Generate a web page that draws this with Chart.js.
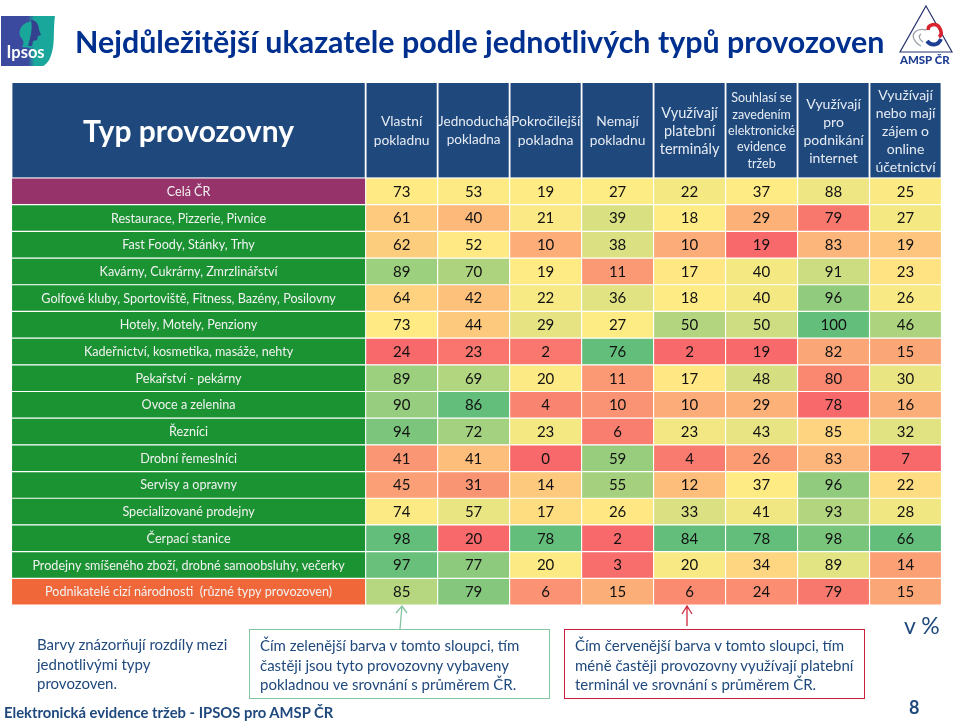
<!DOCTYPE html>
<html lang="cs">
<head>
<meta charset="utf-8">
<title>Nejdůležitější ukazatele</title>
<script src="https://cdn.jsdelivr.net/npm/chart.js@4"></script>
<style>
html, body { margin: 0; padding: 0; background: #fff; }
body { width: 960px; height: 723px; position: relative; overflow: hidden; font-family: Lato, Carlito, sans-serif; }
canvas { position: absolute; left: 0; top: 0; }
.abs { position: absolute; white-space: nowrap; }
#title { left: 75px; top: 23px; font-size: 30.4px; font-weight: 700; color: #00308f; }
.note { font-size: 15px; line-height: 19.6px; color: #1f497d; box-sizing: border-box; }
#noteLeft { left: 37px; top: 635px; }
#noteGreen { left: 249px; top: 629px; width: 301px; height: 70px; border: 1.5px solid #84c4a0; padding: 6px 0 0 10px; }
#noteRed { left: 564px; top: 629px; width: 301px; height: 70px; border: 1.5px solid #c8203c; padding: 6px 0 0 10px; }
#footer { left: 4px; top: 703px; font-size: 14.8px; font-weight: 700; color: #1f497d; }
#unit { left: 904px; top: 611px; font-size: 23px; color: #1f497d; }
#page { left: 909px; top: 696px; font-size: 18px; font-weight: 700; color: #1f497d; }
svg { position: absolute; left: 0; top: 0; }
</style>
</head>
<body>
<canvas id="heatmap" width="960" height="723"></canvas>

<svg width="960" height="723" viewBox="0 0 960 723">
    <defs>
        <linearGradient id="ipsosFill" x1="0" x2="1" y1="0" y2="0">
            <stop offset="0" stop-color="#3b4a9e"/>
            <stop offset="0.5" stop-color="#3b4a9e"/>
            <stop offset="0.62" stop-color="#1aa79b"/>
            <stop offset="1" stop-color="#1aa79b"/>
        </linearGradient>
    </defs>
    <path d="M1 16 H55 C53 30 55 42 52 52 C50 60 47 64 43 66 H1 Z" fill="url(#ipsosFill)"/>
    <path d="M29 22 C36 19 39 26 38 33 C38 37 36 38 35 41 C33 43 33 46 32 48 L22 47 C25 42 23 40 20 36 C18 29 23 23 29 22 Z" fill="#1aa79b"/>
    <path d="M31 20 C37 20 39 26 39 30 L41 35 L38 36 L37 40 L33 41 L32 46 L28 46 C30 38 33 30 31 20 Z" fill="#33418f"/>
    <text x="6.5" y="58" font-family="Lato, sans-serif" font-size="16.5" font-weight="700" fill="#fff">Ipsos</text>

    <path d="M926 6 L952 52 H900 Z" fill="#fff" stroke="#27346f" stroke-width="1.2"/>
    <path d="M928 30 C928 24 936 23 939 27 C942 31 942 35 939 37" fill="none" stroke="#d9232e" stroke-width="3.6"/>
    <path d="M927 41 C931 46 938 46 941 39" fill="none" stroke="#1f3f94" stroke-width="4"/>
    <path d="M921 46 C914 42 911 36 915 32 C918 29 922 29 926 30 M923 42 C919 39 918 36 921 34" fill="none" stroke="#9aa0a8" stroke-width="1.3"/>
    <text x="900" y="64" font-family="Lato, sans-serif" font-size="11.4" font-weight="900" fill="#1f3f94">AMSP ČR</text>

    <path d="M400 629 L402 606 M396 613 L402 606 L407 613" fill="none" stroke="#84c4a0" stroke-width="1.3"/>
    <path d="M687 626 V606 M682 614 L687 606 L692 614" fill="none" stroke="#d0283c" stroke-width="1.3"/>
</svg>

<div class="abs" id="title">Nejdůležitější ukazatele podle jednotlivých typů provozoven</div>
<div class="abs note" id="noteLeft">Barvy znázorňují rozdíly mezi<br>jednotlivými typy<br>provozoven.</div>
<div class="abs note" id="noteGreen">Čím zelenější barva v tomto sloupci, tím<br>častěji jsou tyto provozovny vybaveny<br>pokladnou ve srovnání s průměrem ČR.</div>
<div class="abs note" id="noteRed">Čím červenější barva v tomto sloupci, tím<br>méně častěji provozovny využívají platební<br>terminál ve srovnání s průměrem ČR.</div>
<div class="abs" id="footer">Elektronická evidence tržeb - IPSOS pro AMSP ČR</div>
<div class="abs" id="unit">v %</div>
<div class="abs" id="page">8</div>

<script>
const rowLabels = [
    'Celá ČR',
    'Restaurace, Pizzerie, Pivnice',
    'Fast Foody, Stánky, Trhy',
    'Kavárny, Cukrárny, Zmrzlinářství',
    'Golfové kluby, Sportoviště, Fitness, Bazény, Posilovny',
    'Hotely, Motely, Penziony',
    'Kadeřnictví, kosmetika, masáže, nehty',
    'Pekařství - pekárny',
    'Ovoce a zelenina',
    'Řezníci',
    'Drobní řemeslníci',
    'Servisy a opravny',
    'Specializované prodejny',
    'Čerpací stanice',
    'Prodejny smíšeného zboží, drobné samoobsluhy, večerky',
    'Podnikatelé cizí národnosti  (různé typy provozoven)'
];

const columnHeaders = [
    ['Vlastní', 'pokladnu'],
    ['Jednoduchá', 'pokladna'],
    ['Pokročilejší', 'pokladna'],
    ['Nemají', 'pokladnu'],
    ['Využívají', 'platební', 'terminály'],
    ['Souhlasí se', 'zavedením', 'elektronické', 'evidence', 'tržeb'],
    ['Využívají', 'pro', 'podnikání', 'internet'],
    ['Využívají', 'nebo mají', 'zájem o', 'online', 'účetnictví']
];

const vlastni     = [73, 61, 62, 89, 64, 73, 24, 89, 90, 94, 41, 45, 74, 98, 97, 85];
const jednoducha  = [53, 40, 52, 70, 42, 44, 23, 69, 86, 72, 41, 31, 57, 20, 77, 79];
const pokrocilejsi = [19, 21, 10, 19, 22, 29, 2, 20, 4, 23, 0, 14, 17, 78, 20, 6];
const nemaji      = [27, 39, 38, 11, 36, 27, 76, 11, 10, 6, 59, 55, 26, 2, 3, 15];
const terminaly   = [22, 18, 10, 17, 18, 50, 2, 17, 10, 23, 4, 12, 33, 84, 20, 6];
const souhlasi    = [37, 29, 19, 40, 40, 50, 19, 48, 29, 43, 26, 37, 41, 78, 34, 24];
const internet    = [88, 79, 83, 91, 96, 100, 82, 80, 78, 85, 83, 96, 93, 98, 89, 79];
const ucetnictvi  = [25, 27, 19, 23, 26, 46, 15, 30, 16, 32, 7, 22, 28, 66, 14, 15];

const columns = [vlastni, jednoducha, pokrocilejsi, nemaji, terminaly, souhlasi, internet, ucetnictvi];

// header text: font size and line height per column
const headerFonts = [[13.8, 19], [13.5, 18], [14, 19], [13.8, 19], [14.5, 18], [12.5, 16.3], [14, 18], [14, 18]];

// the label column sits left of zero on the x scale, one unit = one value column
const LABEL_SPAN = 4.92;

const RED = [248, 105, 107], YELLOW = [255, 235, 132], GREEN = [99, 190, 123];

function median(list) {
    const s = [...list].sort((a, b) => a - b);
    return (s[7] + s[8]) / 2;
}

function mix(a, b, t) {
    return `rgb(${a.map((v, i) => Math.round(v + (b[i] - v) * t)).join(',')})`;
}

// same 3 colour scale as a spreadsheet, min / median / max of each column
function cellColor(value, list) {
    const min = Math.min(...list), max = Math.max(...list), mid = median(list);
    if (value <= mid) return mix(RED, YELLOW, (value - min) / (mid - min));
    return mix(YELLOW, GREEN, (value - mid) / (max - mid));
}

function labelColor(i) {
    if (i === 0) return '#96336a';
    if (i === rowLabels.length - 1) return '#f0683a';
    return '#1b9333';
}

const labelDataset = {
    label: 'Typ provozovny',
    data: rowLabels.map(() => [-LABEL_SPAN, 0]),
    backgroundColor: rowLabels.map((_, i) => labelColor(i))
};

const valueDatasets = columns.map((list, c) => ({
    label: columnHeaders[c].join(' '),
    data: list.map(() => [c, c + 1]),
    backgroundColor: list.map(v => cellColor(v, list))
}));

const tablePlugin = {
    id: 'tablePlugin',
    afterDatasetsDraw(chart) {
        const { ctx, scales: { x, y }, chartArea } = chart;
        const headTop = 83, headBottom = chartArea.top;
        const headMid = 131;
        ctx.save();
        ctx.textAlign = 'center';
        ctx.textBaseline = 'middle';

        // header row
        ctx.fillStyle = '#1f497d';
        ctx.fillRect(x.getPixelForValue(-LABEL_SPAN) + 0.9, headTop, x.getPixelForValue(0) - 1.8 - x.getPixelForValue(-LABEL_SPAN), headBottom - headTop - 0.6);
        columns.forEach((_, c) => {
            ctx.fillRect(x.getPixelForValue(c) + 0.9, headTop, x.getPixelForValue(c + 1) - x.getPixelForValue(c) - 1.8, headBottom - headTop - 0.6);
        });
        ctx.fillStyle = '#fff';
        ctx.font = '700 30px Lato, sans-serif';
        ctx.fillText('Typ provozovny', x.getPixelForValue(-LABEL_SPAN / 2), 132);
        ctx.fillStyle = '#e6ebf3';
        columnHeaders.forEach((lines, c) => {
            const [size, lh] = headerFonts[c];
            ctx.font = `${size}px Lato, sans-serif`;
            const start = headMid - (lines.length - 1) * lh / 2;
            lines.forEach((t, i) => ctx.fillText(t, x.getPixelForValue(c + 0.5), start + i * lh));
        });

        // row labels and values
        rowLabels.forEach((name, r) => {
            const py = y.getPixelForValue(r) + 0.5;
            ctx.fillStyle = '#f2f2f2';
            ctx.font = '12.6px Lato, sans-serif';
            ctx.fillText(name, x.getPixelForValue(-LABEL_SPAN / 2), py);
            ctx.fillStyle = '#111';
            ctx.font = '15px Lato, sans-serif';
            columns.forEach((list, c) => ctx.fillText(String(list[r]), x.getPixelForValue(c + 0.5), py));
        });
        ctx.restore();
    }
};

new Chart(document.getElementById('heatmap'), {
    type: 'bar',
    data: {
        labels: rowLabels,
        datasets: [labelDataset, ...valueDatasets]
    },
    options: {
        indexAxis: 'y',
        responsive: false,
        animation: false,
        layout: { padding: { left: 11.5, right: 18.5, top: 178, bottom: 118 } },
        datasets: {
            bar: {
                grouped: false,
                barPercentage: 1,
                categoryPercentage: 1,
                borderWidth: 0.9,
                borderColor: '#fff',
                borderSkipped: false
            }
        },
        plugins: {
            legend: { display: false },
            tooltip: { enabled: false }
        },
        scales: {
            x: { type: 'linear', min: -LABEL_SPAN, max: columns.length, display: false },
            y: { type: 'category', display: false, grid: { display: false } }
        }
    },
    plugins: [tablePlugin]
});
</script>
</body>
</html>
